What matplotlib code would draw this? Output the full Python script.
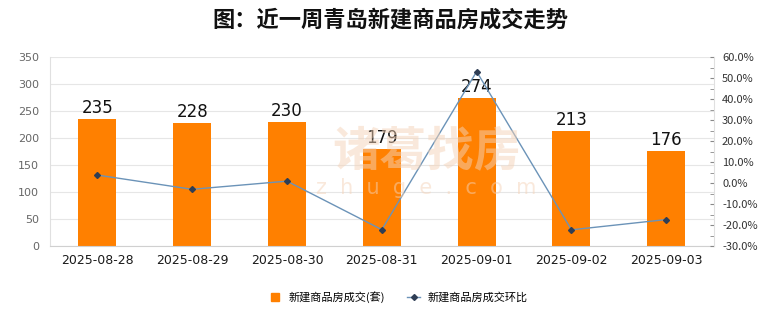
import matplotlib
matplotlib.use("Agg")
import matplotlib.pyplot as plt
from matplotlib.ticker import MultipleLocator, FuncFormatter
from matplotlib.lines import Line2D

plt.rcParams['font.family'] = ['Noto Sans CJK SC', 'DejaVu Sans']

dates = ["2025-08-28", "2025-08-29", "2025-08-30", "2025-08-31",
         "2025-09-01", "2025-09-02", "2025-09-03"]
deals = [235, 228, 230, 179, 274, 213, 176]
mom_pct = [3.8, -3.0, 0.9, -22.2, 53.1, -22.3, -17.4]

bar_color = "#FF8000"
line_color = "#6B93B8"
marker_color = "#2F3E55"

fig = plt.figure(figsize=(7.8, 3.28), dpi=100)
fig.patch.set_facecolor("white")

# faint watermark behind the plot
fig.text(0.547, 0.54, "诸葛找房", fontsize=34, color="#F5D3B8", alpha=0.5,
         ha="center", va="center", fontweight="bold", zorder=0)
fig.text(0.547, 0.427, "z  h  u  g  e  .  c  o  m", fontsize=15, color="#F5D3B8",
         alpha=0.5, ha="center", va="center", family=["DejaVu Sans"], zorder=0)

ax = fig.add_axes([0.064, 0.25, 0.851, 0.576])
ax.patch.set_alpha(0)
ax2 = ax.twinx()

x = list(range(len(dates)))
ax.bar(x, deals, width=0.4, color=bar_color, zorder=2)
for xi, v in zip(x, deals):
    ax.text(xi, v + 4, str(v), ha="center", va="bottom", fontsize=12,
            color="#111111", family=["DejaVu Sans"], zorder=5)

ax.set_xlim(-0.5, len(dates) - 0.5)
ax.set_ylim(0, 350)
ax.yaxis.set_major_locator(MultipleLocator(50))
ax.grid(axis="y", color="#E6E6E6", linewidth=0.8, zorder=0)
ax.set_axisbelow(True)
ax.set_xticks(x)
ax.set_xticklabels(dates, fontsize=9, color="#1A1A1A", family=["DejaVu Sans"])
ax.tick_params(axis="x", length=0, pad=6)
ax.tick_params(axis="y", length=0, labelsize=8, labelcolor="#666666", pad=8)
for lbl in ax.get_yticklabels():
    lbl.set_family(["DejaVu Sans"])

ax.spines["top"].set_visible(False)
ax2.spines["top"].set_visible(False)
ax.spines["left"].set_color("#E0E0E0")
ax.spines["bottom"].set_color("#D0D0D0")
ax.spines["right"].set_visible(False)
ax2.spines["left"].set_visible(False)
ax2.spines["bottom"].set_visible(False)
ax2.spines["right"].set_color("#E0E0E0")

ax2.plot(x, mom_pct, color=line_color, linewidth=1.0, marker="D",
         markersize=3, markerfacecolor=marker_color,
         markeredgecolor=marker_color, zorder=4)
ax2.set_ylim(-30, 60)
ax2.yaxis.set_major_locator(MultipleLocator(10))
ax2.yaxis.set_minor_locator(MultipleLocator(5))
ax2.yaxis.set_major_formatter(FuncFormatter(lambda v, p: f"{v:.1f}%"))
ax2.tick_params(axis="y", which="both", direction="in", length=3,
                color="#888888", labelsize=8, labelcolor="#333333", pad=6)

fig.suptitle("图：近一周青岛新建商品房成交走势", x=0.5, y=0.975,
             fontsize=16, fontweight="bold", color="#111111")

handles = [
    Line2D([0], [0], marker="s", linestyle="none", markersize=6,
           markerfacecolor=bar_color, markeredgecolor=bar_color),
    Line2D([0], [0], color=line_color, linewidth=1.0, marker="D",
           markersize=3, markerfacecolor=marker_color,
           markeredgecolor=marker_color),
]
fig.legend(handles, ["新建商品房成交(套)", "新建商品房成交环比"],
           loc="center", bbox_to_anchor=(0.51, 0.095), ncol=2, frameon=False,
           fontsize=8, handlelength=1.2, columnspacing=2.0, handletextpad=0.6)

fig.savefig("out.png", dpi=100, facecolor="white")
